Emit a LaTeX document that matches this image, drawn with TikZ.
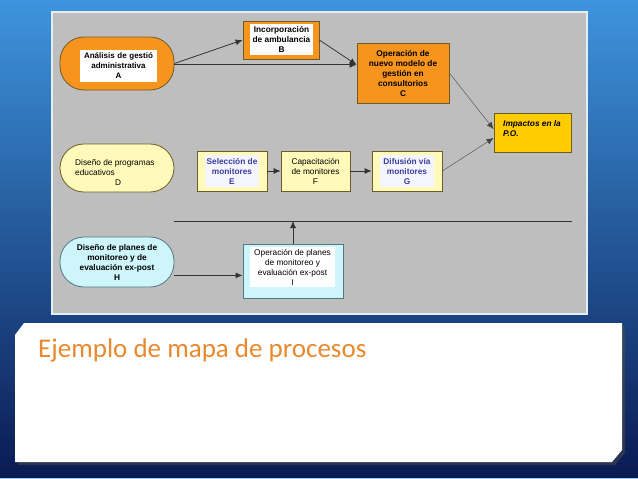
\documentclass[tikz,border=0pt]{standalone}
\usepackage{fontspec}
\setmainfont{Liberation Sans}
\newfontfamily\titlefont{Carlito}
\usepackage{tikz}
\usepackage{xcolor}
\usetikzlibrary{shapes,arrows.meta,positioning,calc}
\definecolor{slidetop}{RGB}{62,148,222}
\definecolor{slidebot}{RGB}{10,26,82}
\definecolor{panelgray}{RGB}{190,190,190}
\definecolor{procorange}{RGB}{247,148,29}
\definecolor{impgold}{RGB}{255,204,0}
\definecolor{paleyellow}{RGB}{255,250,185}
\definecolor{palecyan}{RGB}{205,245,250}
\definecolor{edgebrown}{RGB}{110,92,40}
\definecolor{edgecyan}{RGB}{80,120,130}
\definecolor{titleorange}{RGB}{232,137,46}
\definecolor{textblue}{RGB}{60,60,160}

\begin{document}
\begin{tikzpicture}[x=1pt,y=-1pt,
    stadium/.style={draw=edgebrown, thick, rounded corners=24pt, minimum width=114pt},
    procbox/.style={draw=edgebrown, thick, rectangle},
    boxtext/.style={align=center, inner sep=0pt, font=\bfseries\fontsize{8.3}{10}\selectfont},
    link/.style={-{Latex[length=7pt,width=6pt]}, thick, black!80},
    thinlink/.style={-{Latex[length=7pt,width=6pt]}, gray!55!black}]
    % Slide background
    \shade[top color=slidetop, bottom color=slidebot] (0,0) rectangle (638,479);
    \useasboundingbox (0,0) rectangle (638,479);
    \draw[slidetop!50!white, line width=1pt] (0,478) -- (638,478);

    % Gray panel
    \draw[fill=panelgray, draw=white!85!slidetop, line width=1.5pt] (52,12) rectangle (587,314);

    % First row
    \node[stadium, fill=procorange, minimum height=53pt] (A) at (117,63.5) {};
    \node[boxtext, font=\bfseries\fontsize{8}{10}\selectfont, fill=white, minimum width=77pt,
        minimum height=32pt, text width=77pt] at (118.5,66)
        {Análisis de gestió\\ administrativa\\ A};
    \node[procbox, fill=procorange, minimum width=76pt, minimum height=38pt] (B) at (281,40) {};
    \node[boxtext, fill=white, minimum width=63pt, minimum height=31pt] at (281.5,39.5)
        {Incorporación\\ de ambulancia\\ B};
    \node[procbox, fill=procorange, minimum width=92pt, minimum height=60pt, boxtext] (C) at (403,73)
        {Operación de\\ nuevo modelo de\\ gestión en\\ consultorios\\ C};
    \node[procbox, fill=impgold, minimum width=77pt, minimum height=39pt] (P) at (532.5,132.5) {};
    \node[boxtext, font=\bfseries\itshape\fontsize{8.3}{10}\selectfont, align=left, anchor=north west]
        at (503,120) {Impactos en la\\ P.O.};

    % Second row
    \node[stadium, fill=paleyellow, minimum height=48pt] (D) at (117,168) {};
    \node[boxtext, font=\fontsize{8.3}{10}\selectfont, align=left, anchor=west] at (75,172)
        {Diseño de programas\\ educativos\\ \hspace*{40pt}D};
    \node[procbox, fill=paleyellow, minimum width=70pt, minimum height=40pt] (E) at (232,171) {};
    \node[boxtext, fill=white!90!blue!40, text=textblue, minimum width=54pt, minimum height=32pt] at (232,171)
        {Selección de\\ monitores\\ E};
    \node[procbox, fill=paleyellow, minimum width=69pt, minimum height=40pt, boxtext,
        font=\fontsize{8.3}{10}\selectfont] (F) at (315.5,171)
        {Capacitación\\ de monitores\\ F};
    \node[procbox, fill=paleyellow, minimum width=70pt, minimum height=40pt] (G) at (407,171) {};
    \node[boxtext, fill=white!90!blue!40, text=textblue, minimum width=54pt, minimum height=32pt] at (407,171)
        {Difusión vía\\ monitores\\ G};

    % Separator
    \coordinate (sepL) at (174,221);
    \coordinate (sepR) at (572,221);
    \draw[thick, black!80] (sepL) -- (sepR);

    % Third row
    \node[stadium, draw=edgecyan, fill=palecyan, minimum height=50pt, boxtext] (H) at (117,262)
        {Diseño de planes de\\ monitoreo y de\\ evaluación ex-post\\ H};
    \node[procbox, draw=edgecyan, fill=palecyan, minimum width=100pt, minimum height=54pt] (I) at (293,271) {};
    \node[boxtext, font=\fontsize{8.3}{10}\selectfont, fill=white, minimum width=85pt, minimum height=40pt]
        at (292.5,267) {Operación de planes\\ de monitoreo y\\ evaluación ex-post\\ I};

    % Connectors
    \draw[link] (A.east) -- (B.west);
    \draw[link] (A.east |- C.170) -- (C.170);
    \draw[link] (B.east) -- (C.170);
    \draw[thinlink] (C.east) -- (P.175);
    \draw[thinlink] (G.east) -- (P.188);
    \draw[link] (E.east) -- (F.west);
    \draw[link] (F.east) -- (G.west);
    \draw[link] (H.east |- I.185) -- (I.185);
    \draw[link] (I.north) -- (I.north |- sepL);

    % Title card
    \fill[black!70, opacity=0.5] (18,338) -- (27,326) -- (625,326) -- (625,453) -- (615,465) -- (18,465) -- cycle;
    \fill[white] (15,335) -- (24,323) -- (622,323) -- (622,450) -- (612,462) -- (15,462) -- cycle;
    \node[anchor=base west, inner sep=0pt, text=titleorange, font=\titlefont\fontsize{27}{30}\selectfont]
        (title) at (38,357) {Ejemplo de mapa de procesos};
\end{tikzpicture}
\end{document}
